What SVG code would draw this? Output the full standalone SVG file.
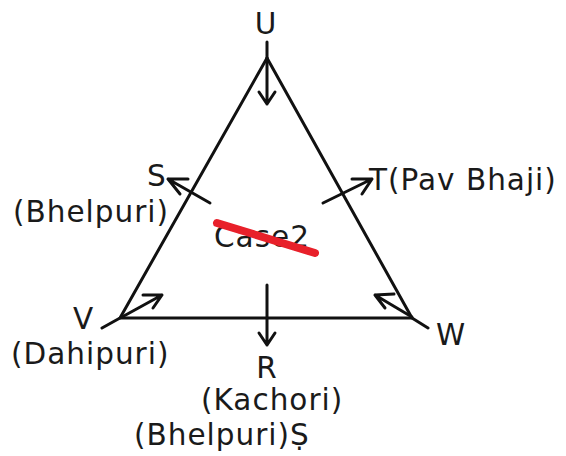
<svg xmlns="http://www.w3.org/2000/svg" width="566" height="456" viewBox="0 0 566 456">
<style>
.ln{stroke:#111;stroke-width:3;fill:none;stroke-linecap:round;stroke-linejoin:round}
.t{font-family:"DejaVu Sans",Verdana,sans-serif;font-size:29.5px;letter-spacing:1px;fill:#1a1a1a}
.strike{stroke:#e8202a;stroke-width:8;stroke-linecap:round;fill:none}
</style>
<rect width="566" height="456" fill="#fff"/>
<g id="connectors">
<path class="ln" d="M267,58 L120,318 L412,318 Z"/>
<path class="ln" d="M267,42 L267,58 M120,318 L102,328 M412,318 L428,328"/>
<path class="ln" d="M267,58 L267,104 M259,92 L267,104 L275,92"/>
<path class="ln" d="M210,203 L168,179 M188,179 L168,179 L180,194"/>
<path class="ln" d="M323,203 L372,179 M352,179 L372,179 L362,194"/>
<path class="ln" d="M122,317 L162,295 M143,295 L162,295 L153,308"/>
<path class="ln" d="M412,317 L375,295 M394,294 L375,295 L385,308"/>
<path class="ln" d="M267,285 L267,345 M259,333 L267,345 L275,333"/>
</g>
<g id="U"><text class="t" x="266" y="34" text-anchor="middle">U</text></g>
<g id="S"><text class="t" x="147" y="186">S</text><text class="t" x="13" y="222">(Bhelpuri)</text></g>
<g id="T"><text class="t" x="369" y="190">T(Pav Bhaji)</text></g>
<g id="V"><text class="t" x="73" y="329">V</text><text class="t" x="11" y="364">(Dahipuri)</text></g>
<g id="W"><text class="t" x="436" y="345">W</text></g>
<g id="R"><text class="t" x="267" y="378" text-anchor="middle">R</text><text class="t" x="201" y="410">(Kachori)</text></g>
<g id="extra"><text class="t" x="134" y="445">(Bhelpuri)Ṣ</text></g>
<g id="case"><text class="t" x="214" y="247">Case2</text><path class="strike" d="M217,223 L315,253"/></g>
</svg>
